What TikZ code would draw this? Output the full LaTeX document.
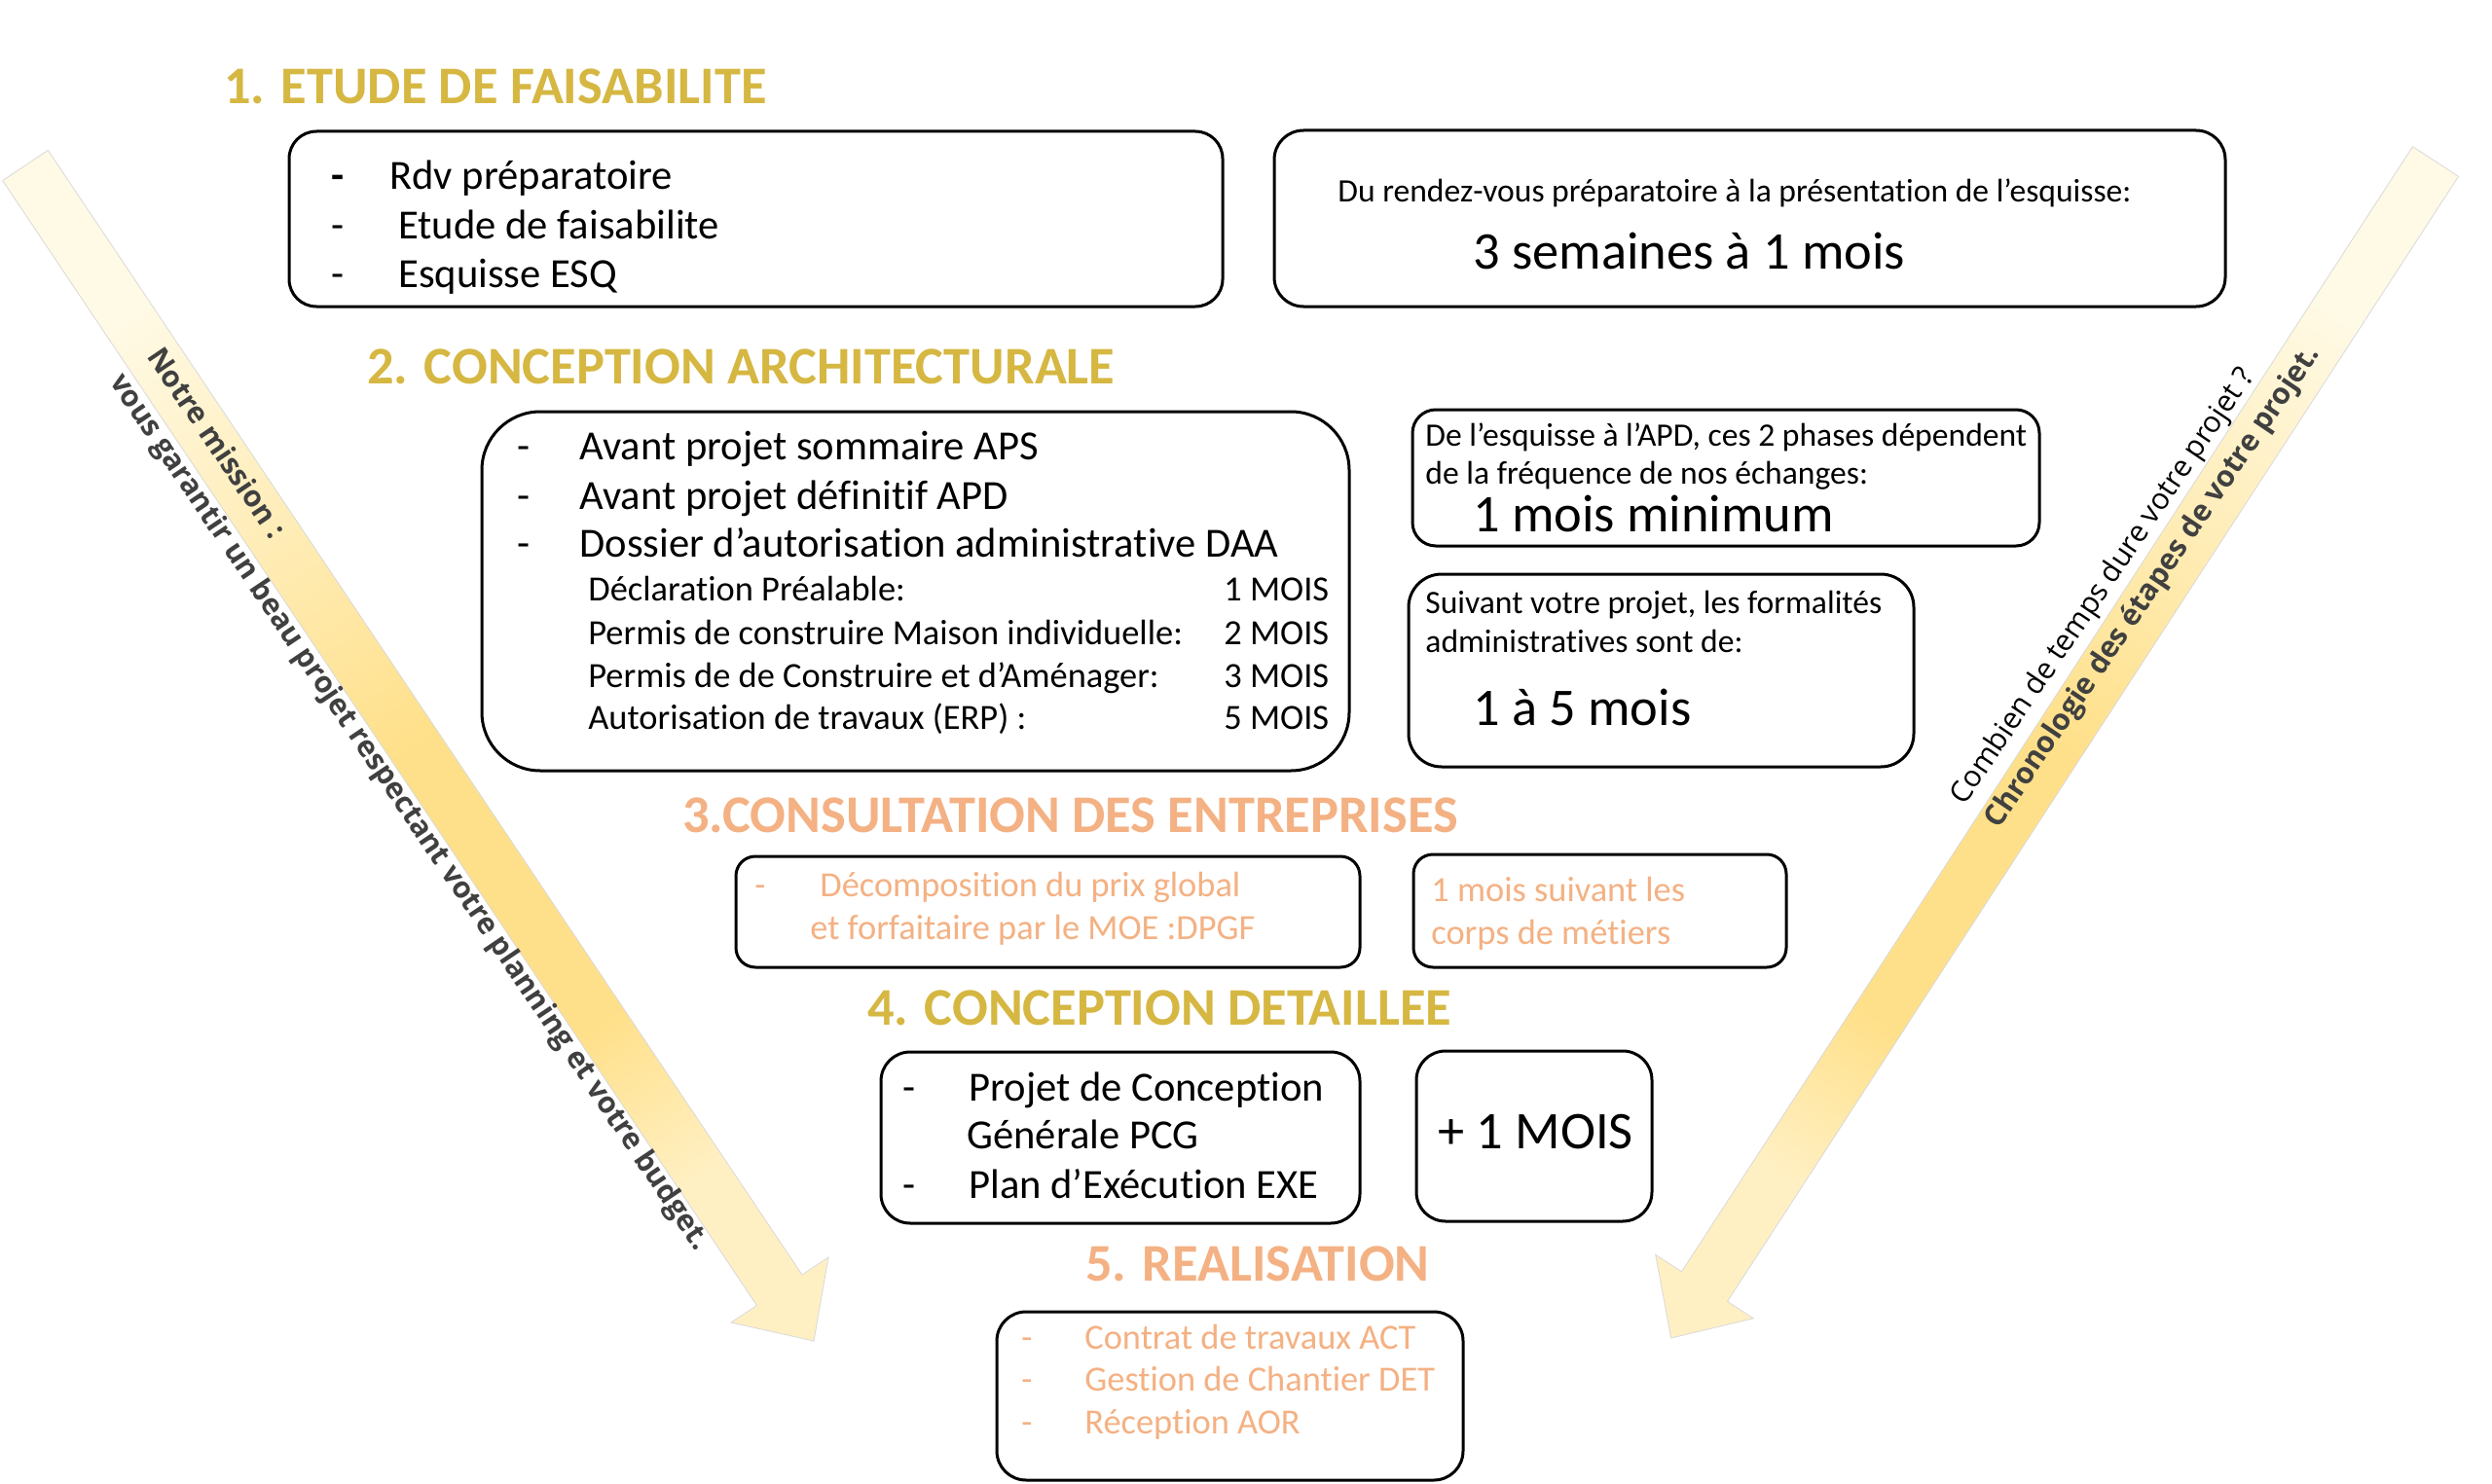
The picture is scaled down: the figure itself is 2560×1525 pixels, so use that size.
\documentclass[tikz,border=0pt]{standalone}
\usepackage{fontspec}
\setmainfont{Carlito}[Ligatures=NoCommon]
\newfontfamily\bandfont{Open Sans}
\usetikzlibrary{fit}
\definecolor{gold}{HTML}{D5B742}
\definecolor{salmon}{HTML}{F4B183}
\definecolor{bandtext}{HTML}{404040}
\definecolor{bandpale}{HTML}{FFFAE6}
\definecolor{bandmid}{HTML}{FFE08A}
\definecolor{bandend}{HTML}{FFF0C4}
\pgfdeclareverticalshading{bandshade}{100bp}{color(0bp)=(bandend); color(25bp)=(bandend); color(34bp)=(bandmid); color(50bp)=(bandmid); color(75bp)=(bandpale); color(100bp)=(bandpale)}
\tikzset{
  title/.style={anchor=base west, inner sep=0pt, text=gold, font=\fontsize{27.2}{32}\selectfont\bfseries},
  stitle/.style={title, text=salmon},
  tx/.style={anchor=base west, inner sep=0pt},
  big/.style={tx, font=\fontsize{21.3}{25}\selectfont},
  sm/.style={tx, font=\fontsize{16.8}{20}\selectfont},
  smx/.style={tx, font=\fontsize{18.2}{22}\selectfont},
  huge/.style={tx, font=\fontsize{27.2}{32}\selectfont},
  boxr/.style={draw=black, line width=1.5pt, rounded corners=#1, inner sep=0pt, fill=white},
  band/.style={draw=gray!30, line width=0.4pt, shading=bandshade},
  btxt/.style={anchor=base west, inner sep=0pt, text=bandtext, font=\bandfont\fontsize{15.1}{19}\selectfont\bfseries}
}
\begin{document}
\begin{tikzpicture}[x=0.5pt,y=-0.5pt]
\useasboundingbox[fill=white] (0,0) rectangle (2560,1525);

% ---- bands (arrows) ----
\shade[band, shading angle=34]
  (2.7,185.6) -- (49.3,154.4) -- (824,1310) -- (851,1292) -- (836,1378) -- (751,1359) -- (777.5,1341.5) -- cycle;
\shade[band, shading angle=-33]
  (2478.5,150.7) -- (2525.5,181.3) -- (1774.5,1337.4) -- (1801.3,1354.8) -- (1716.7,1375) -- (1700.7,1289.4) -- (1727.5,1306.8) -- cycle;

\node[btxt, rotate=-56] (m1) at (150,366) {Notre mission :};
\node[btxt, rotate=-56] (m2) at (112,392) {vous garantir un beau projet respectant votre planning et votre budget.};
\node[btxt, rotate=56, text=black, font=\bandfont\fontsize{15.1}{19}\selectfont] (c1) at (2018,829) {Combien de temps dure votre projet ?};
\node[btxt, rotate=56] (c2) at (2053,853) {Chronologie des étapes de votre projet.};

% ---- titles ----
\node[title] (T1) at (230,107) {1. ETUDE DE FAISABILITE};
\node[title] (T2) at (377,394) {2. CONCEPTION ARCHITECTURALE};
\node[stitle] (T3) at (701,855) {3.CONSULTATION DES ENTREPRISES};
\node[title] (T4) at (891,1053) {4. CONCEPTION DETAILLEE};
\node[stitle] (T5) at (1115,1316) {5. REALISATION};

% ---- boxes ----
\node[boxr=14pt, fit={(297,135) (1256,315)}] (b1) {};
\node[boxr=15pt, fit={(1309,134) (2286,315)}] (b1r) {};
\node[boxr=30pt, fit={(495,423) (1386,792)}] (b2) {};
\node[boxr=12pt, fit={(1451,421) (2095,561)}] (b2a) {};
\node[boxr=17pt, fit={(1447,590) (1966,788)}] (b2b) {};
\node[boxr=10pt, fit={(756,880) (1397,994)}] (b3a) {};
\node[boxr=10pt, fit={(1452,878) (1835,994)}] (b3b) {};
\node[boxr=15pt, fit={(905,1081) (1397,1257)}] (b4a) {};
\node[boxr=15pt, fit={(1455,1080) (1697,1255)}] (b4b) {};
\node[boxr=15pt, fit={(1024,1348) (1503,1521)}] (b5) {};

% ---- box 1 ----
\node[big, font=\fontsize{21.3}{25}\selectfont\bfseries] (d11) at (340,194) {-};
\node[big] (t11) at (400,194) {Rdv préparatoire};
\node[big] (d12) at (340,245) {-};
\node[big] (t12) at (409,245) {Etude de faisabilite};
\node[big] (d13) at (340,295) {-};
\node[big] (t13) at (409,295) {Esquisse ESQ};

\node[sm] (r11) at (1374,207) {Du rendez-vous préparatoire à la présentation de l’esquisse:};
\node[huge] (r12) at (1513,276) {3 semaines à 1 mois};

% ---- box 2 ----
\node[big] (d21) at (531,472) {-};
\node[big] (t21) at (595,472) {Avant projet sommaire APS};
\node[big] (d22) at (531,523) {-};
\node[big] (t22) at (595,523) {Avant projet définitif APD};
\node[big] (d23) at (531,572) {-};
\node[big] (t23) at (595,572) {Dossier d’autorisation administrative DAA};
\node[smx] (s1) at (604,617) {Déclaration Préalable:};
\node[smx] (s2) at (604,662) {Permis de construire Maison individuelle:};
\node[smx] (s3) at (604,706) {Permis de de Construire et d’Aménager:};
\node[smx] (s4) at (604,749) {Autorisation de travaux (ERP) :};
\node[smx] (m1m) at (1257,617) {1 MOIS};
\node[smx] (m2m) at (1257,662) {2 MOIS};
\node[smx] (m3m) at (1257,706) {3 MOIS};
\node[smx] (m5m) at (1257,749) {5 MOIS};

\node[sm] (e1) at (1464,458) {De l’esquisse à l’APD, ces 2 phases dépendent};
\node[sm] (e2) at (1464,497) {de la fréquence de nos échanges:};
\node[huge] (e3) at (1513,546) {1 mois minimum};

\node[sm] (f1) at (1464,630) {Suivant votre projet, les formalités};
\node[sm] (f2) at (1464,670) {administratives sont de:};
\node[huge] (f3) at (1513,745) {1 à 5 mois};

% ---- box 3 ----
\node[smx, text=salmon] (d31) at (775,921) {-};
\node[smx, text=salmon] (t31) at (842,921) {Décomposition du prix global};
\node[smx, text=salmon] (t32) at (832,965) {et forfaitaire par le MOE :DPGF};
\node[smx, text=salmon] (u31) at (1470,926) {1 mois suivant les};
\node[smx, text=salmon] (u32) at (1470,970) {corps de métiers};

% ---- box 4 ----
\node[big] (d41) at (927,1131) {-};
\node[big] (t41) at (995,1131) {Projet de Conception};
\node[big] (t42) at (993,1180) {Générale PCG};
\node[big] (d43) at (927,1231) {-};
\node[big] (t43) at (995,1231) {Plan d’Exécution EXE};
\node[huge] (p41) at (1477,1180) {+ 1 MOIS};

% ---- box 5 ----
\node[smx, text=salmon] (d51) at (1049,1386) {-};
\node[smx, text=salmon] (t51) at (1114,1386) {Contrat de travaux ACT};
\node[smx, text=salmon] (d52) at (1049,1429) {-};
\node[smx, text=salmon] (t52) at (1114,1429) {Gestion de Chantier DET};
\node[smx, text=salmon] (d53) at (1049,1473) {-};
\node[smx, text=salmon] (t53) at (1114,1473) {Réception AOR};
\end{tikzpicture}
\end{document}
